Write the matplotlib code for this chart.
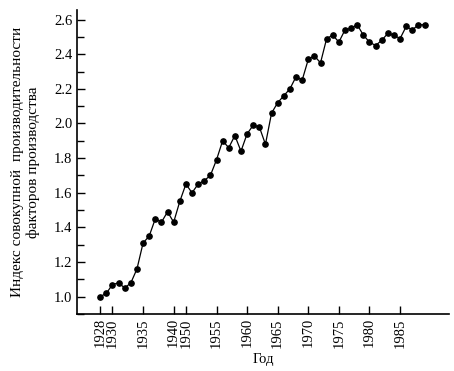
import numpy as np
import matplotlib.pyplot as plt
from matplotlib.ticker import MultipleLocator, FormatStrFormatter

# ── данные ────────────────────────────────────────────────────
years = list(range(1928, 1942)) + list(range(1950, 1990))
tfp = [1.00, 1.02, 1.07, 1.08, 1.05, 1.08, 1.16, 1.31, 1.35, 1.45,
       1.43, 1.49, 1.43, 1.55,
       1.65, 1.60, 1.65, 1.67, 1.70, 1.79, 1.90, 1.86, 1.93, 1.84,
       1.94, 1.99, 1.98, 1.88, 2.06, 2.12, 2.16, 2.20, 2.27, 2.25,
       2.37, 2.39, 2.35, 2.49, 2.51, 2.47, 2.54, 2.55, 2.57, 2.51,
       2.47, 2.45, 2.48, 2.52, 2.51, 2.49, 2.56, 2.54, 2.57, 2.57]
tick_years = [1928, 1930, 1935, 1940, 1950, 1955, 1960, 1965, 1970,
              1975, 1980, 1985]
# ─────────────────────────────────────────────────────────────

plt.rcParams['font.family'] = ['Liberation Serif', 'DejaVu Serif']

pos = np.arange(len(years))
tick_pos = [years.index(y) for y in tick_years]

fig = plt.figure(figsize=(4.54, 3.71), dpi=100)
ax = fig.add_axes([0.1696, 0.1536, 0.8194, 0.8194])

ax.plot(pos, tfp, color='black', lw=0.9, marker='o', ms=3.8,
        markerfacecolor='black', markeredgecolor='black')

ax.set_xlim(-3.8, 57)
ax.set_ylim(0.9, 2.655)

ax.set_xticks(tick_pos)
ax.set_xticklabels([str(y) for y in tick_years], rotation=90, fontsize=10.5)
ax.yaxis.set_major_locator(MultipleLocator(0.2))
ax.yaxis.set_minor_locator(MultipleLocator(0.1))
ax.yaxis.set_major_formatter(FormatStrFormatter('%.1f'))
ax.tick_params(axis='y', labelsize=10.5)
ax.tick_params(which='major', direction='in', length=6, width=1)
ax.tick_params(which='minor', direction='in', length=5, width=1)
ax.tick_params(axis='x', pad=3)

ax.spines['top'].set_visible(False)
ax.spines['right'].set_visible(False)
for s in ('left', 'bottom'):
    ax.spines[s].set_linewidth(1.2)

ax.set_xlabel('Год', fontsize=10.5, labelpad=4)
ax.set_ylabel('Индекс совокупной  производительности\nфакторов производства',
              fontsize=11, labelpad=10)

fig.savefig('out.png', dpi=100)
